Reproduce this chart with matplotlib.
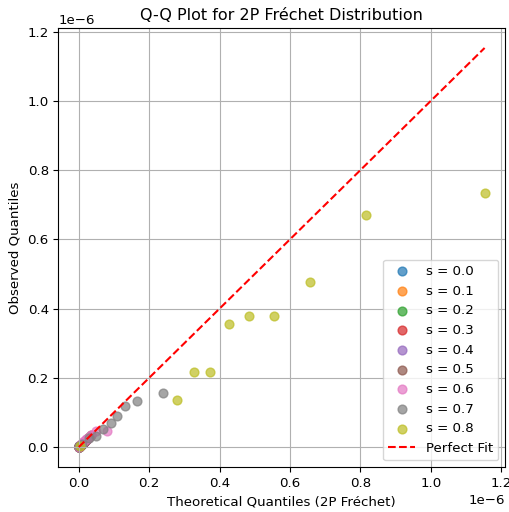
import numpy as np
import matplotlib.pyplot as plt

plt.rcParams['font.size'] = 9.6

# shape values and quantiles (units of 1e-6)
s_values = [0.0, 0.1, 0.2, 0.3, 0.4, 0.5, 0.6, 0.7, 0.8]

theo = {
    0.0: [0.000, 0.0005, 0.001, 0.0015, 0.002, 0.0025, 0.003, 0.0035, 0.004, 0.005],
    0.1: [0.000, 0.001, 0.002, 0.003, 0.004, 0.005, 0.006, 0.007, 0.008, 0.010],
    0.2: [0.000, 0.001, 0.002, 0.004, 0.005, 0.007, 0.008, 0.010, 0.012, 0.015],
    0.3: [0.000, 0.002, 0.003, 0.005, 0.007, 0.009, 0.011, 0.013, 0.016, 0.020],
    0.4: [0.000, 0.002, 0.004, 0.006, 0.009, 0.011, 0.014, 0.017, 0.021, 0.027],
    0.5: [0.000, 0.003, 0.005, 0.008, 0.011, 0.014, 0.018, 0.022, 0.028, 0.036],
    0.6: [0.001, 0.004, 0.007, 0.011, 0.015, 0.020, 0.026, 0.034, 0.048, 0.080],
    0.7: [0.002, 0.010, 0.048, 0.068, 0.091, 0.108, 0.131, 0.165, 0.239, 0.030],
    0.8: [0.003, 0.278, 0.327, 0.372, 0.426, 0.483, 0.554, 0.656, 0.815, 1.153],
}
obs = {
    0.0: [0.000, 0.0005, 0.001, 0.0015, 0.002, 0.0025, 0.003, 0.0035, 0.004, 0.005],
    0.1: [0.000, 0.001, 0.002, 0.003, 0.004, 0.005, 0.006, 0.007, 0.008, 0.010],
    0.2: [0.000, 0.001, 0.002, 0.004, 0.005, 0.007, 0.008, 0.010, 0.012, 0.015],
    0.3: [0.000, 0.002, 0.003, 0.005, 0.007, 0.009, 0.011, 0.013, 0.016, 0.020],
    0.4: [0.000, 0.002, 0.004, 0.006, 0.009, 0.011, 0.014, 0.017, 0.021, 0.027],
    0.5: [0.000, 0.003, 0.005, 0.008, 0.011, 0.014, 0.018, 0.022, 0.028, 0.036],
    0.6: [0.001, 0.005, 0.009, 0.014, 0.018, 0.022, 0.027, 0.034, 0.046, 0.046],
    0.7: [0.002, 0.010, 0.032, 0.052, 0.069, 0.089, 0.118, 0.133, 0.156, 0.025],
    0.8: [0.003, 0.136, 0.216, 0.216, 0.355, 0.378, 0.378, 0.476, 0.669, 0.735],
}

fig = plt.figure(figsize=(5.1, 5.12), dpi=100)
ax = fig.add_subplot(111)

allTheo = []
for s in s_values:
    x = np.array(theo[s]) * 1e-6
    y = np.array(obs[s]) * 1e-6
    allTheo.extend(x)
    ax.scatter(x, y, s=40, alpha=0.7, label='s = %.1f' % s)

lo, hi = min(allTheo), max(allTheo)
ax.plot([lo, hi], [lo, hi], 'r--', label='Perfect Fit')

ax.set_xlabel('Theoretical Quantiles (2P Fréchet)')
ax.set_ylabel('Observed Quantiles')
ax.set_title('Q-Q Plot for 2P Fréchet Distribution')
ax.legend(loc='lower right')
ax.grid(True)

fig.subplots_adjust(left=0.1147, right=0.990, top=0.9453, bottom=0.0879)
fig.savefig('out.png', dpi=100)
